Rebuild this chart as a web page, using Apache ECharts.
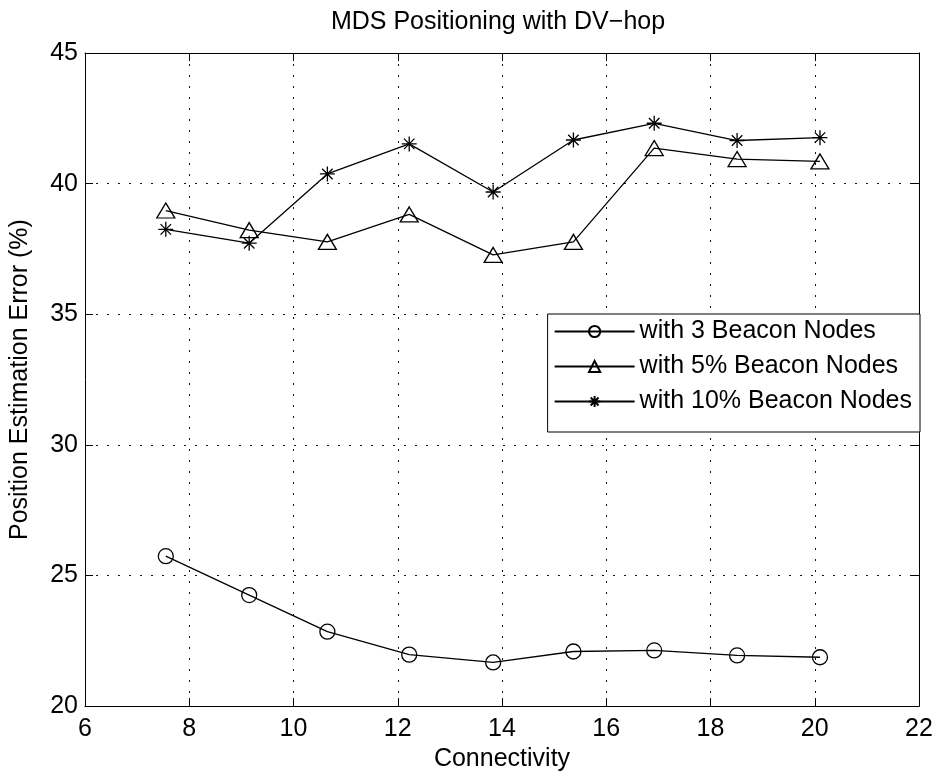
<!DOCTYPE html>
<html>
<head>
<meta charset="utf-8">
<script src="https://cdn.jsdelivr.net/npm/echarts@6/dist/echarts.min.js"></script>
<style>
html,body{margin:0;padding:0;background:#fff;}
#chart{width:936px;height:777px;}
</style>
</head>
<body>
<div id="chart"></div>
<script>
const connectivity = [7.55, 9.15, 10.65, 12.22, 13.83, 15.37, 16.92, 18.51, 20.1];
const beacon3 = [25.74, 24.25, 22.85, 21.97, 21.67, 22.09, 22.13, 21.94, 21.87];
const beacon5pct = [38.97, 38.22, 37.77, 38.82, 37.27, 37.77, 41.36, 40.94, 40.85];
const beacon10pct = [38.25, 37.72, 40.37, 41.52, 39.68, 41.67, 42.31, 41.65, 41.76];
const seriesNames = ['with 3 Beacon Nodes', 'with 5% Beacon Nodes', 'with 10% Beacon Nodes'];
const xTicks = {min: 6, max: 22, interval: 2};
const yTicks = {min: 20, max: 45, interval: 5};

const FONT = "'Liberation Sans', Arial, Helvetica, sans-serif";
const pair = (xs, ys) => xs.map((x, i) => [x, ys[i]]);
const starPath = 'path://M0,-10L0,10M-10,0L10,0M-7,-7L7,7M-7,7L7,-7';

const chart = echarts.init(document.getElementById('chart'), null, {renderer: 'canvas'});

const baseAxisLine = {show: true, onZero: false, lineStyle: {color: '#000', width: 1}};
const tick = {show: true, inside: true, length: 8, lineStyle: {color: '#000', width: 1}};
const grid = {show: true, lineStyle: {color: '#111', width: 1, type: [2, 9]}};

function lineSeries(name, data, symbol, size) {
  return {
    name: name,
    type: 'line',
    data: data,
    symbol: symbol,
    symbolSize: size,
    showSymbol: true,
    xAxisIndex: 0,
    yAxisIndex: 0,
    lineStyle: {color: '#000', width: 1.3},
    itemStyle: {color: 'rgba(255,255,255,0)', borderColor: '#000', borderWidth: 1.3},
    emphasis: {disabled: true},
    animation: false
  };
}

chart.setOption({
  animation: false,
  backgroundColor: '#fff',
  textStyle: {fontFamily: FONT},
  title: {
    text: 'MDS Positioning with DV\u2212hop',
    left: 498,
    top: 10,
    padding: 0,
    textAlign: 'center',
    textStyle: {fontFamily: FONT, fontSize: 25, fontWeight: 'normal', color: '#000'}
  },
  grid: {left: 84, right: 17, top: 53, bottom: 67, containLabel: false},
  legend: {
    orient: 'vertical',
    right: 16,
    top: 314,
    data: seriesNames,
    itemWidth: 80,
    itemHeight: 14,
    itemGap: 10,
    padding: [5, 8, 18, 6],
    borderColor: '#000',
    borderWidth: 1,
    borderRadius: 0,
    backgroundColor: '#fff',
    selectedMode: false,
    textStyle: {fontFamily: FONT, fontSize: 25, color: '#000', lineHeight: 25}
  },
  xAxis: [
    {
      type: 'value', min: xTicks.min, max: xTicks.max, interval: xTicks.interval,
      position: 'bottom',
      axisLine: baseAxisLine, axisTick: tick,
      axisLabel: {color: '#000', fontSize: 25, fontFamily: FONT, margin: 11},
      splitLine: grid,
      name: 'Connectivity', nameLocation: 'middle', nameGap: 39,
      nameTextStyle: {color: '#000', fontSize: 25, fontFamily: FONT}
    },
    {
      type: 'value', min: xTicks.min, max: xTicks.max, interval: xTicks.interval,
      position: 'top',
      axisLine: baseAxisLine, axisTick: tick,
      axisLabel: {show: false}, splitLine: {show: false}
    }
  ],
  yAxis: [
    {
      type: 'value', min: yTicks.min, max: yTicks.max, interval: yTicks.interval,
      position: 'left',
      axisLine: baseAxisLine, axisTick: tick,
      axisLabel: {color: '#000', fontSize: 25, fontFamily: FONT, margin: 7},
      splitLine: grid,
      name: 'Position Estimation Error (%)', nameLocation: 'middle', nameGap: 52,
      nameTextStyle: {color: '#000', fontSize: 25, fontFamily: FONT}
    },
    {
      type: 'value', min: yTicks.min, max: yTicks.max, interval: yTicks.interval,
      position: 'right',
      axisLine: baseAxisLine, axisTick: tick,
      axisLabel: {show: false}, splitLine: {show: false}
    }
  ],
  series: [
    lineSeries(seriesNames[0], pair(connectivity, beacon3), 'circle', 15),
    lineSeries(seriesNames[1], pair(connectivity, beacon5pct), 'triangle', [18, 15]),
    lineSeries(seriesNames[2], pair(connectivity, beacon10pct), starPath, 15)
  ]
});
</script>
</body>
</html>
